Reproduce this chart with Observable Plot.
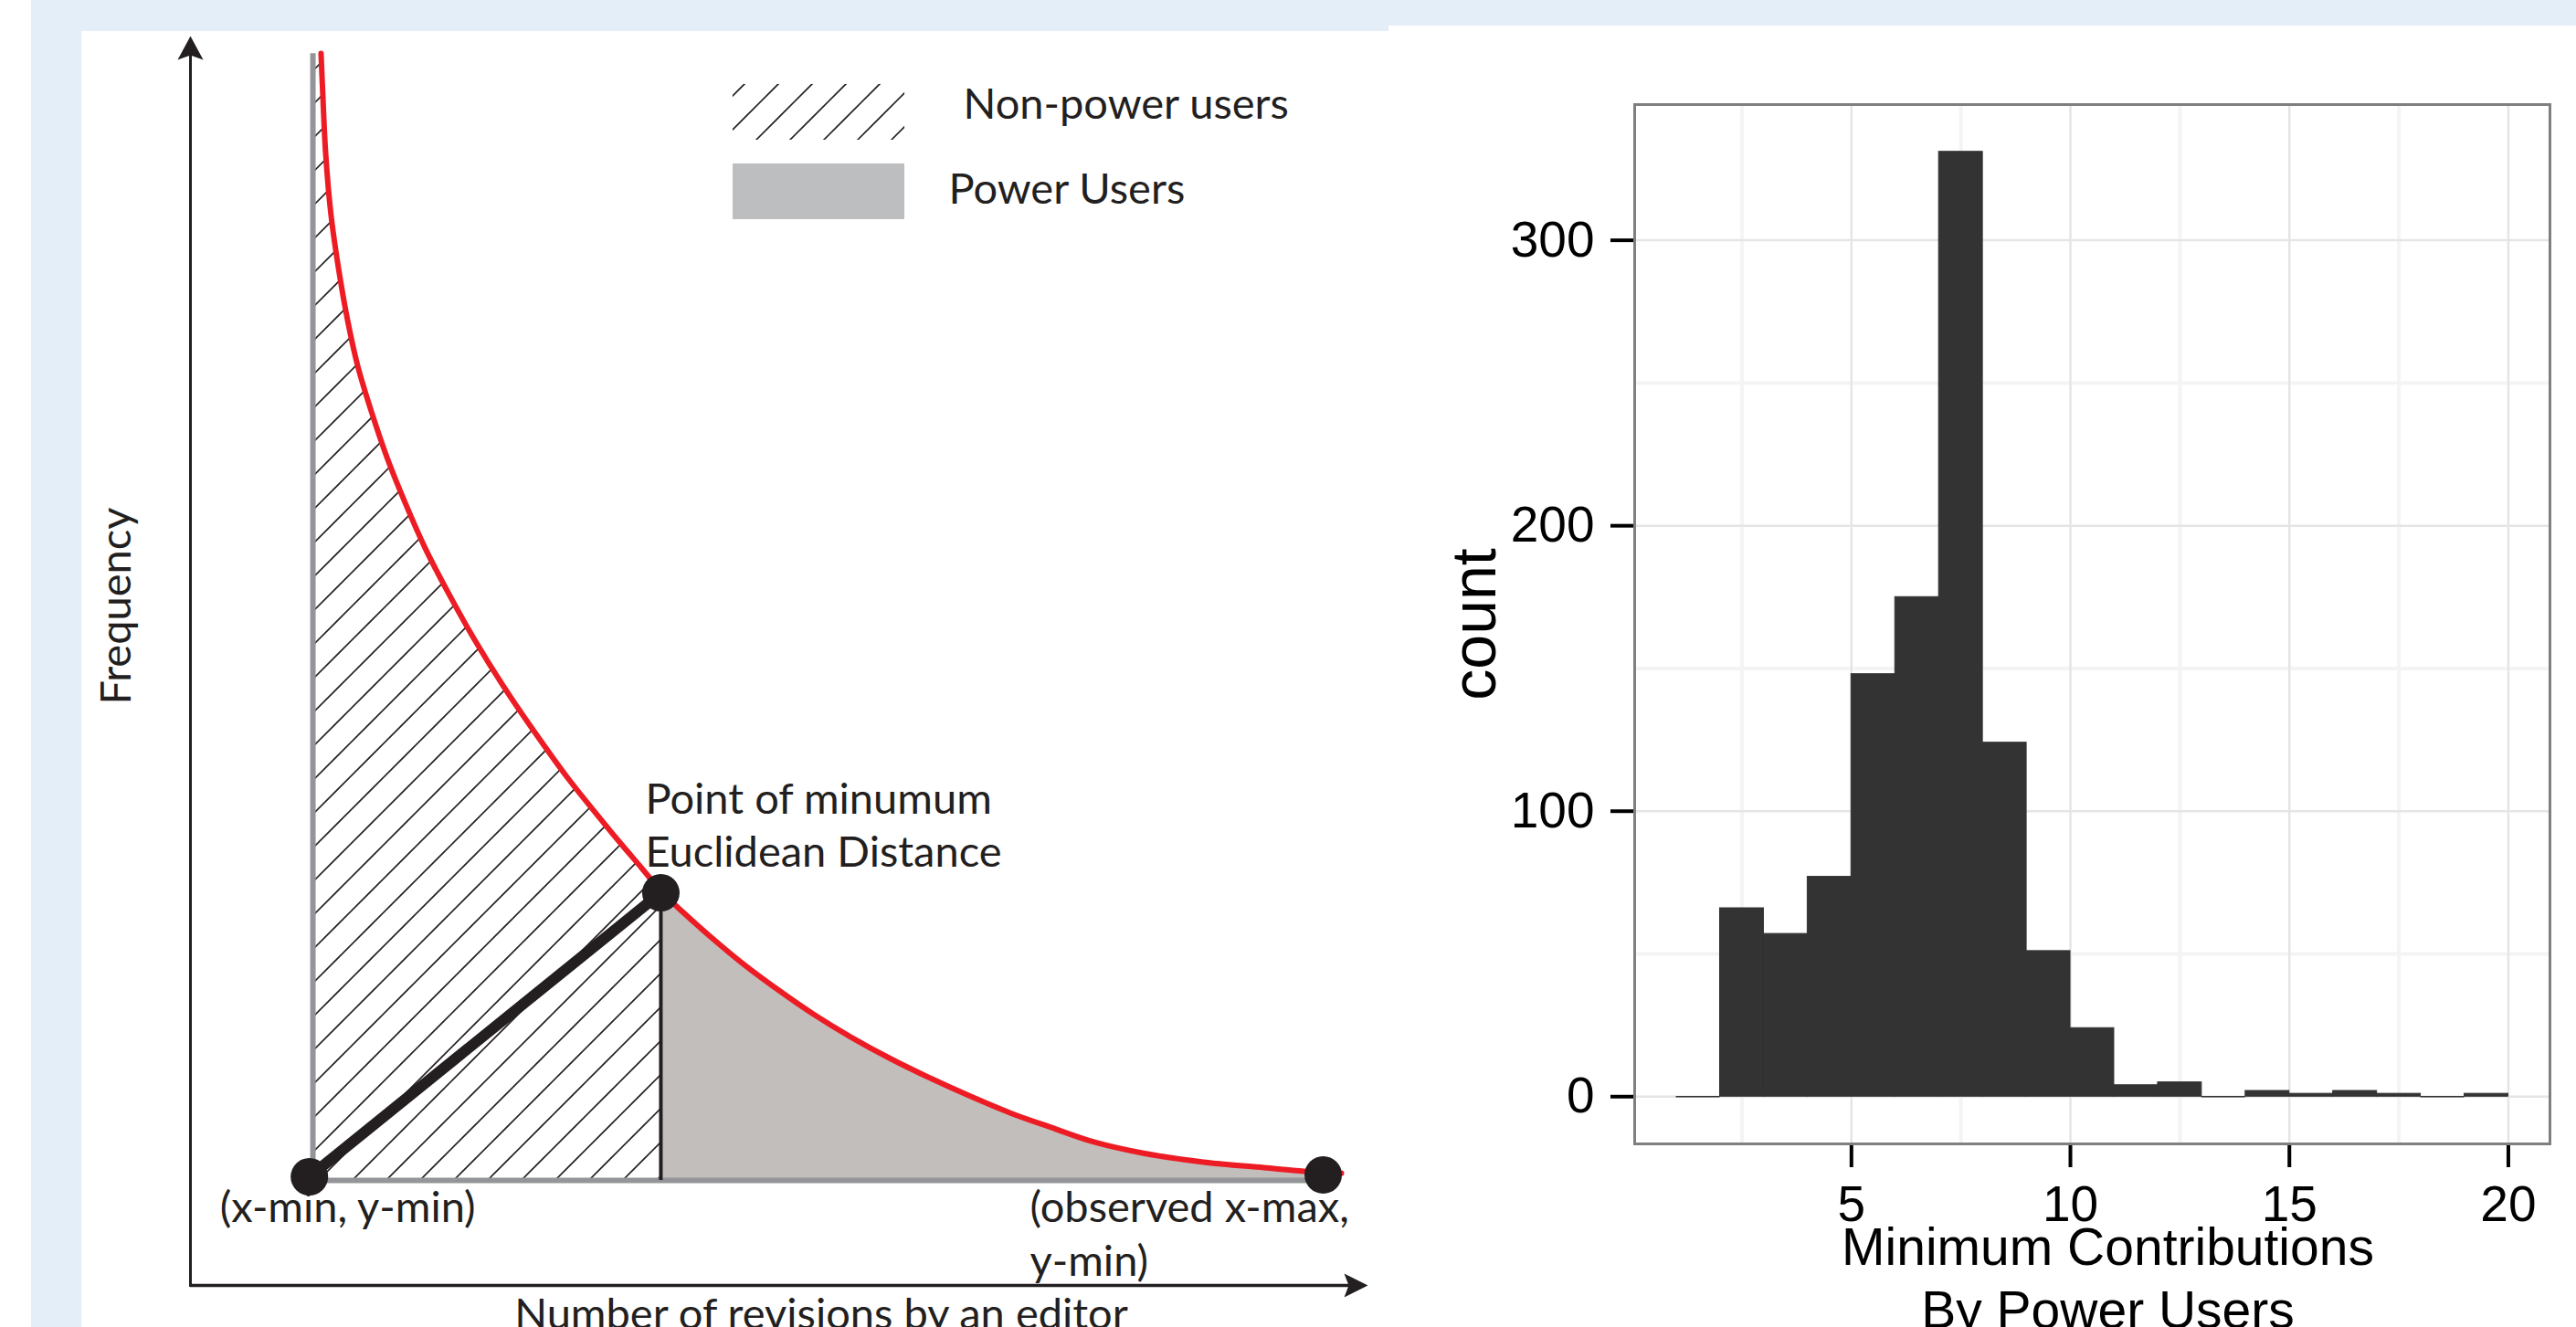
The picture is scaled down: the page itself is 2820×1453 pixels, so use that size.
<!DOCTYPE html>
<html>
<head>
<meta charset="utf-8">
<script src="https://cdn.jsdelivr.net/npm/d3@7"></script>
<script src="https://cdn.jsdelivr.net/npm/@observablehq/plot@0.6"></script>
<style>
html, body { margin: 0; padding: 0; background: #ffffff; }
body { width: 2820px; height: 1453px; position: relative; overflow: hidden; }
.band { position: absolute; background: #e3eef8; }
#left, #right { position: absolute; top: 0; }
#left { left: 0; }
#right { left: 1520px; }
#right g[aria-label^="x-axis"] line,
#right g[aria-label^="y-axis"] line,
#right g[aria-label$="axis tick"] path { stroke-width: 4px; stroke: #000; }
svg { overflow: visible; }
</style>
</head>
<body>
<div class="band" style="left:34px;top:0;width:1486px;height:34px"></div>
<div class="band" style="left:1520px;top:0;width:1300px;height:28px"></div>
<div class="band" style="left:34px;top:0;width:55px;height:1453px"></div>
<div id="left"></div>
<div id="right"></div>
<script>
// ---------- Left panel: conceptual diagram (abstract units, 0–100 on both axes) ----------
const curveX = [11.09, 11.23, 11.48, 11.92, 12.57, 13.34, 14.20, 15.36, 16.68, 18.23, 19.94, 21.95, 24.13, 26.53, 29.17, 31.96, 35.07, 36.54, 38.32, 39.95,
                41.89, 44.06, 46.86, 50.04, 52.91, 56.09, 59.50, 62.84, 66.10, 69.59, 73.08, 76.73, 80.84, 86.04, 91.16, 94.57, 97.75];
const curveY = [98.61, 95.54, 90.64, 85.82, 81.43, 77.27, 73.61, 69.96, 66.30, 62.65, 59.00, 55.34, 51.68, 48.03, 44.37, 40.72, 37.06, 35.38, 33.41, 31.58,
                29.82, 28.00, 25.80, 23.57, 21.71, 19.88, 18.13, 16.59, 15.20, 13.82, 12.65, 11.48, 10.60, 9.87, 9.43, 9.14, 8.99];
const pointX = [10.1, 39.95, 96.2];
const pointY = [8.7, 31.43, 8.85];
const pointLabels = ["(x-min, y-min)", "Point of minumum", "(observed x-max,"];
const pointLabels2 = ["", "Euclidean Distance", "y-min)"];
const xMin = 10.4, yMin = 8.4, yTop = 98.6;
const splitX = 39.95, splitY = 31.5;
const legendLabels = ["Non-power users", "Power Users"];
const axisTitlesLeft = ["Frequency", "Number of revisions by an editor"];

// ---------- Right panel: histogram ----------
const binStart = [1, 2, 3, 4, 5, 6, 7, 8, 9, 10, 11, 12, 13, 14, 15, 16, 17, 18, 19];
const binCount = [0, 66, 57, 77, 148, 175, 331, 124, 51, 24, 4, 5, 0, 2, 1, 2, 1, 0, 1];
const xTicks = [5, 10, 15, 20];
const yTicks = [0, 100, 200, 300];
const xMinor = [2.5, 7.5, 12.5, 17.5];
const yMinor = [50, 150, 250];
const histTitles = ["count", "Minimum Contributions", "By Power Users"];

const ink = "#231f20";
const HATCH_AREA = "#fefefe", HATCH_KEY = "#fdfdfd"; // placeholders, swapped for patterns after render
const curve = curveX.map((x, i) => ({x, y: curveY[i]}));
const points = pointX.map((x, i) => ({x, y: pointY[i], a: pointLabels[i], b: pointLabels2[i]}));
const hatchData = [{x: xMin, y: yTop}, ...curve.filter(d => d.x <= splitX)];
const powerData = curve.filter(d => d.x >= splitX);

const upArrow = {draw(ctx) { ctx.moveTo(0, 0); ctx.lineTo(14, 26); ctx.lineTo(0, 21); ctx.lineTo(-14, 26); ctx.closePath(); }};
const rightArrow = {draw(ctx) { ctx.moveTo(0, 0); ctx.lineTo(-26, -13); ctx.lineTo(-21, 0); ctx.lineTo(-26, 13); ctx.closePath(); }};

const leftFont = {fontFamily: "Lato", fontSize: 47, fill: ink};

const left = Plot.plot({
  width: 1520, height: 1453,
  marginLeft: 208, marginRight: 23, marginTop: 39, marginBottom: 46,
  x: {domain: [0, 100], axis: null},
  y: {domain: [0, 100], axis: null},
  style: {background: "none", overflow: "visible"},
  marks: [
    Plot.areaY(powerData, {x: "x", y1: yMin, y2: "y", fill: "#c2bebb", curve: "catmull-rom"}),
    Plot.areaY(hatchData, {x: "x", y1: yMin, y2: "y", fill: HATCH_AREA, curve: "catmull-rom"}),
    // legend swatches
    Plot.rect([legendLabels[0]], {x1: 46.08, x2: 60.67, y1: 91.67, y2: 96.13, fill: HATCH_KEY}),
    Plot.rect([legendLabels[1]], {x1: 46.08, x2: 60.67, y1: 85.31, y2: 89.77, fill: "#bcbec0"}),
    Plot.text([legendLabels[0]], {frameAnchor: "top-left", text: d => d, dx: 846, dy: 90, textAnchor: "start", lineAnchor: "bottom", ...leftFont}),
    Plot.text([legendLabels[1]], {frameAnchor: "top-left", text: d => d, dx: 830, dy: 183, textAnchor: "start", lineAnchor: "bottom", ...leftFont}),
    // gray bounds
    Plot.ruleX([xMin], {y1: yMin, y2: yTop, stroke: "#939598", strokeWidth: 6}),
    Plot.ruleY([yMin], {x1: pointX[0], x2: pointX[2], stroke: "#939598", strokeWidth: 6}),
    // split line
    Plot.ruleX([splitX], {y1: yMin, y2: splitY, stroke: ink, strokeWidth: 4}),
    // red curve
    Plot.line(curve, {x: "x", y: "y", stroke: "#ed1c24", strokeWidth: 6, curve: "catmull-rom"}),
    // thick distance line
    Plot.line(points.slice(0, 2), {x: "x", y: "y", stroke: ink, strokeWidth: 12, strokeLinecap: "round"}),
    Plot.dot(points, {x: "x", y: "y", r: 20.5, fill: ink, stroke: "none"}),
    // axes arrows
    Plot.ruleX([0], {y1: -0.15, y2: 99, stroke: ink, strokeWidth: 3}),
    Plot.ruleY([0], {x1: 0, x2: 99, stroke: ink, strokeWidth: 3.5}),
    Plot.dot([{x: 0, y: 100}], {x: "x", y: "y", symbol: upArrow, fill: ink, stroke: "none"}),
    Plot.dot([{x: 100, y: 0}], {x: "x", y: "y", symbol: rightArrow, fill: ink, stroke: "none"}),
    // point labels
    Plot.text(points.slice(0, 1), {x: "x", y: "y", text: "a", dx: -98, dy: 50, textAnchor: "start", lineAnchor: "bottom", ...leftFont}),
    Plot.text(points.slice(1, 2), {x: "x", y: "y", text: "a", dx: -17, dy: -87, textAnchor: "start", lineAnchor: "bottom", ...leftFont}),
    Plot.text(points.slice(1, 2), {x: "x", y: "y", text: "b", dx: -17, dy: -29, textAnchor: "start", lineAnchor: "bottom", ...leftFont}),
    Plot.text(points.slice(2, 3), {x: "x", y: "y", text: "a", dx: -321, dy: 52, textAnchor: "start", lineAnchor: "bottom", ...leftFont}),
    Plot.text(points.slice(2, 3), {x: "x", y: "y", text: "b", dx: -321, dy: 111, textAnchor: "start", lineAnchor: "bottom", ...leftFont}),
    // axis titles
    Plot.text([axisTitlesLeft[0]], {frameAnchor: "left", text: d => d, dx: -66, dy: -60, rotate: -90, textAnchor: "middle", lineAnchor: "bottom", ...leftFont}),
    Plot.text([axisTitlesLeft[1]], {frameAnchor: "bottom", text: d => d, dx: 46, dy: 47, textAnchor: "middle", lineAnchor: "bottom", ...leftFont})
  ]
});
document.getElementById("left").appendChild(left);

// hatch patterns (45° lines, 37px period) injected into the diagram's own SVG
(function addPatterns(svg) {
  const ns = "http://www.w3.org/2000/svg";
  const defs = document.createElementNS(ns, "defs");
  [["hatchA", 13], ["hatchB", 19]].forEach(([id, a]) => {
    const p = document.createElementNS(ns, "pattern");
    p.setAttribute("id", id);
    p.setAttribute("patternUnits", "userSpaceOnUse");
    p.setAttribute("width", "37");
    p.setAttribute("height", "37");
    const b = a + 37;
    const bg = document.createElementNS(ns, "rect");
    bg.setAttribute("width", "37"); bg.setAttribute("height", "37"); bg.setAttribute("fill", "#ffffff");
    p.appendChild(bg);
    const path = document.createElementNS(ns, "path");
    path.setAttribute("d", `M-6,${a + 6}L${a + 6},-6M${b - 43},43L43,${b - 43}`);
    path.setAttribute("stroke", ink);
    path.setAttribute("stroke-width", "1.6");
    path.setAttribute("fill", "none");
    p.appendChild(path);
    defs.appendChild(p);
  });
  svg.insertBefore(defs, svg.firstChild);
})(left);
function swapFill(svg, marker, url) {
  svg.querySelectorAll("[fill]").forEach(e => {
    if ((e.getAttribute("fill") || "").toLowerCase() === marker) e.setAttribute("fill", url);
  });
}
swapFill(left, HATCH_AREA, "url(#hatchA)");
swapFill(left, HATCH_KEY, "url(#hatchB)");

// ---------- histogram ----------
const bins = binStart.map((x, i) => ({x1: x, x2: x + 1, count: binCount[i]}));
const histFont = "Liberation Sans, Arial, Helvetica, sans-serif";
const right = Plot.plot({
  width: 1300, height: 1453,
  marginLeft: 269, marginRight: 29, marginTop: 114, marginBottom: 201,
  x: {domain: [0.05, 20.95], ticks: xTicks, tickSize: 26, tickPadding: 19, label: null},
  y: {domain: [-16.55, 347.55], ticks: yTicks, tickSize: 26, tickPadding: 18, label: null},
  style: {background: "none", overflow: "visible", fontFamily: histFont, fontSize: "55px", color: "#000"},
  marks: [
    Plot.ruleX(xMinor, {stroke: "#f4f4f4", strokeWidth: 4}),
    Plot.ruleY(yMinor, {stroke: "#f4f4f4", strokeWidth: 4}),
    Plot.ruleX(xTicks, {stroke: "#e5e5e5", strokeWidth: 2.5}),
    Plot.ruleY(yTicks, {stroke: "#e5e5e5", strokeWidth: 2.5}),
    Plot.rectY(bins.filter(d => d.count > 0), {x1: "x1", x2: "x2", y: "count", fill: "#333333", stroke: "#333333", strokeWidth: 1, inset: 0}),
    Plot.ruleY(bins.filter(d => d.count === 0), {x1: "x1", x2: "x2", y: 0, stroke: "#333333", strokeWidth: 1.6}),
    Plot.frame({stroke: "#7f7f7f", strokeWidth: 3}),
    Plot.text([histTitles[0]], {frameAnchor: "left", text: d => d, dx: -153, rotate: -90, textAnchor: "middle", lineAnchor: "bottom", fontSize: 68, fontFamily: histFont, fill: "#000"}),
    Plot.text([histTitles[1]], {frameAnchor: "bottom", text: d => d, dx: 17, dy: 132, textAnchor: "middle", lineAnchor: "bottom", fontSize: 57, fontFamily: histFont, fill: "#000"}),
    Plot.text([histTitles[2]], {frameAnchor: "bottom", text: d => d, dx: 17, dy: 201, textAnchor: "middle", lineAnchor: "bottom", fontSize: 57, fontFamily: histFont, fill: "#000"})
  ]
});
document.getElementById("right").appendChild(right);
</script>
</body>
</html>
